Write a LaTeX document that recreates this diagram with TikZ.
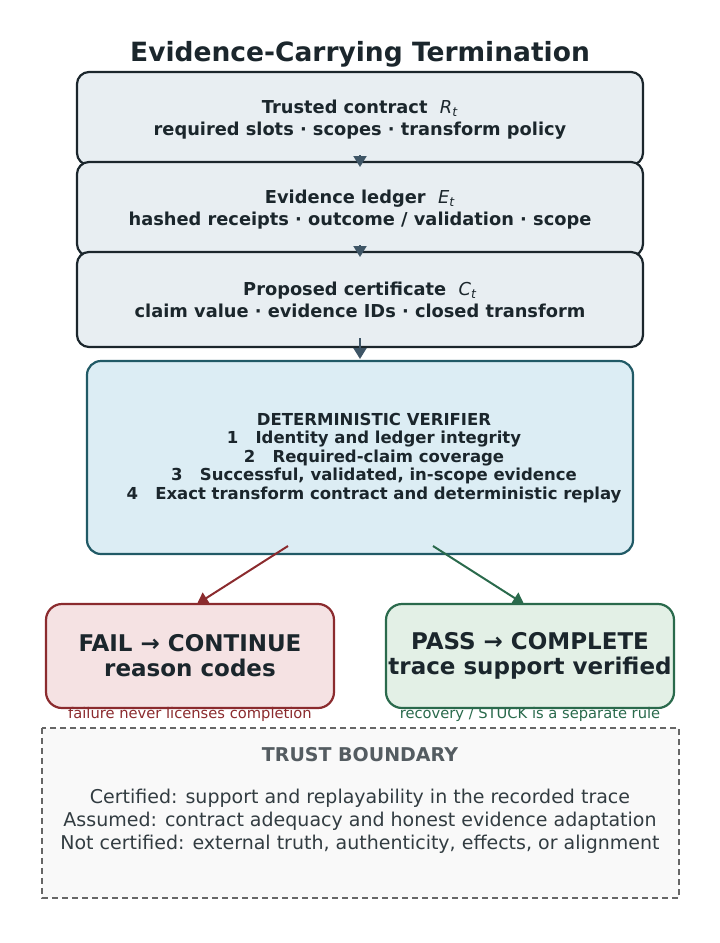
\documentclass[tikz,border=0pt]{standalone}
\usepackage{fontspec}
\setmainfont{DejaVu Sans}
\usetikzlibrary{arrows.meta}
\definecolor{dark}{HTML}{1B262C}
\definecolor{boxfill}{HTML}{E8EEF2}
\definecolor{vfill}{HTML}{DCEDF4}
\definecolor{vline}{HTML}{215A66}
\definecolor{redl}{HTML}{8B2B2E}
\definecolor{redf}{HTML}{F5E2E3}
\definecolor{grnl}{HTML}{2A6A4C}
\definecolor{grnf}{HTML}{E3F0E6}
\definecolor{arr}{HTML}{3E5566}
\newcommand{\vsym}[2]{\textnormal{\itshape #1}\textsubscript{\textnormal{\itshape #2}}}
\begin{document}
\begin{tikzpicture}[x=1pt,y=-1pt,
 box/.style={draw=dark,line width=2.2pt,fill=boxfill,rounded corners=12pt},
 btxt/.style={font=\fontsize{17.8}{22}\selectfont\bfseries,text=dark,align=center},
 ar/.style={line width=2pt,-{Triangle[length=11pt,width=13pt]}}]
\useasboundingbox (0,0) rectangle (720,943);
\node[font=\fontsize{26.5}{32}\selectfont\bfseries,text=dark] (title) at (360,54) {Evidence-Carrying Termination};
\draw[box] (77,72) rectangle (643,165);
\draw[box] (77,162) rectangle (643,256);
\draw[box] (77,252) rectangle (643,347);
\node[btxt] (r) at (360,120) {Trusted contract~~\vsym{R}{t}\\required slots · scopes · transform policy};
\node[btxt] (e) at (360,210) {Evidence ledger~~\vsym{E}{t}\\hashed receipts · outcome / validation · scope};
\node[btxt] (c) at (360,300) {Proposed certificate~~\vsym{C}{t}\\claim value · evidence IDs · closed transform};
\draw[draw=vline,line width=2.2pt,fill=vfill,rounded corners=14pt] (87,361) rectangle (633,554);
\node[font=\fontsize{16.5}{18.6}\selectfont\bfseries,text=dark,align=center] (v) at (374,458) {DETERMINISTIC VERIFIER\\1~~~Identity and ledger integrity\\2~~~Required-claim coverage\\3~~~Successful, validated, in-scope evidence\\4~~~Exact transform contract and deterministic replay};
\draw[draw=redl,line width=2.2pt,fill=redf,rounded corners=16pt] (46,604) rectangle (334,708);
\draw[draw=grnl,line width=2.2pt,fill=grnf,rounded corners=16pt] (386,604) rectangle (674,708);
\node[font=\fontsize{23}{25}\selectfont\bfseries,text=dark,align=center] (f) at (190,656) {FAIL → CONTINUE\\reason codes};
\node[font=\fontsize{23}{25}\selectfont\bfseries,text=dark,align=center] (p) at (530,656) {PASS → COMPLETE\\trace support verified};
\node[font=\fontsize{14.7}{16}\selectfont,text=redl] (fl) at (190,714) {failure never licenses completion};
\node[font=\fontsize{14.7}{16}\selectfont,text=grnl] (pl) at (530,714) {recovery / STUCK is a separate rule};
\draw[draw=gray!80!black,line width=2pt,dash pattern=on 6pt off 4pt,fill=gray!5] (42,728) rectangle (679,898);
\node[font=\fontsize{19}{22}\selectfont\bfseries,text=dark!75] (tb) at (360,755) {TRUST BOUNDARY};
\node[font=\fontsize{19}{23}\selectfont,text=dark!90,align=center] (tt) at (360,821) {Certified: support and replayability in the recorded trace\\Assumed: contract adequacy and honest evidence adaptation\\Not certified: external truth, authenticity, effects, or alignment};
\coordinate (a1) at (360,155); \coordinate (a2) at (360,167);
\coordinate (b1) at (360,245); \coordinate (b2) at (360,257);
\coordinate (c1) at (360,338); \coordinate (c2) at (360,359);
\draw[ar,arr] (a1) -- (a2);
\draw[ar,arr] (b1) -- (b2);
\draw[ar,arr] (c1) -- (c2);
\coordinate (fs) at (288,546); \coordinate (fe) at (197,604);
\coordinate (ps) at (433,546); \coordinate (pe) at (524,604);
\draw[ar,redl] (fs) -- (fe);
\draw[ar,grnl] (ps) -- (pe);
\end{tikzpicture}
\end{document}
